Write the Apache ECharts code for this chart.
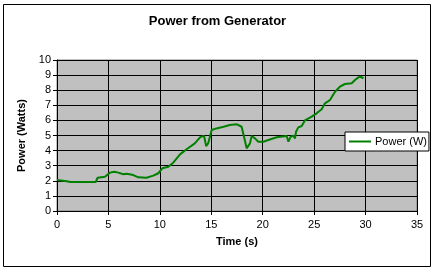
<!DOCTYPE html>
<html>
<head>
<meta charset="utf-8">
<script src="https://cdn.jsdelivr.net/npm/echarts@6/dist/echarts.min.js"></script>
<style>
html,body{margin:0;padding:0;background:#fff;}
#c{width:435px;height:271px;}
</style>
</head>
<body>
<div id="c"></div>
<script>
var titleText = 'Power from Generator';
var xName = 'Time (s)';
var yName = 'Power (Watts)';
var seriesName = 'Power (W)';
var time = [0, 0.94, 1.3, 2.5, 3.76, 3.95, 4.67, 5.15, 5.57, 5.96, 6.45, 6.77, 7.42, 7.9, 8.7, 9.36, 9.85, 10.24, 10.82, 11.3, 11.96, 12.6, 13.4, 13.97, 14.3, 14.5, 14.7, 15.04, 15.5, 16.2, 16.8, 17.5, 17.95, 18.18, 18.44, 18.6, 18.76, 18.93, 19.25, 19.57, 20.06, 20.55, 21.36, 22.33, 22.5, 22.72, 22.98, 23.14, 23.24, 23.46, 23.79, 24.1, 24.76, 25.24, 25.73, 26.05, 26.54, 27.03, 27.5, 28.0, 28.65, 28.97, 29.3, 29.5, 29.8];
var power = [2.05, 1.97, 1.92, 1.92, 1.92, 2.2, 2.27, 2.54, 2.6, 2.54, 2.43, 2.47, 2.38, 2.23, 2.2, 2.34, 2.5, 2.83, 2.93, 3.2, 3.75, 4.09, 4.48, 4.92, 4.97, 4.3, 4.48, 5.36, 5.47, 5.58, 5.7, 5.74, 5.58, 4.92, 4.15, 4.09, 4.48, 4.97, 4.81, 4.59, 4.59, 4.7, 4.88, 4.97, 4.59, 4.92, 4.99, 4.81, 5.25, 5.54, 5.63, 6.0, 6.25, 6.47, 6.74, 7.13, 7.35, 7.9, 8.23, 8.41, 8.46, 8.68, 8.85, 8.89, 8.79];

var data = time.map(function (t, i) { return [t, power[i]]; });
var font = 'Arial, "Liberation Sans", sans-serif';
var chart = echarts.init(document.getElementById('c'));
chart.setOption({
  animation: false,
  backgroundColor: '#ffffff',
  title: {
    text: titleText, left: 'center', top: 10,
    textStyle: { fontFamily: font, fontSize: 13, fontWeight: 'bold', color: '#000' }
  },
  graphic: [{
    type: 'rect', shape: { x: 3.5, y: 4.5, width: 427, height: 262 },
    style: { fill: 'none', stroke: '#000', lineWidth: 1 }, z: -1
  }],
  grid: {
    left: 57, right: 18, top: 60, bottom: 60,
    show: true, backgroundColor: '#c0c0c0', borderColor: '#808080', borderWidth: 1
  },
  legend: {
    data: [{ name: seriesName, icon: 'rect' }], left: 345, top: 132,
    backgroundColor: '#fff', borderColor: '#000', borderWidth: 1,
    padding: [4, 2, 4, 4], itemWidth: 22, itemHeight: 2, itemGap: 4,
    itemStyle: { color: '#008000', borderWidth: 0 },
    textStyle: { fontFamily: font, fontSize: 11, color: '#000', padding: [0, 0, 0, -1] }
  },
  xAxis: {
    type: 'value', min: 0, max: 35, interval: 5,
    name: xName, nameLocation: 'middle', nameGap: 25,
    nameTextStyle: { fontFamily: font, fontSize: 11, fontWeight: 'bold', color: '#000' },
    axisLine: { lineStyle: { color: '#000' } },
    axisTick: { show: true, inside: false, length: 4, lineStyle: { color: '#000' } },
    axisLabel: { fontFamily: font, fontSize: 11, color: '#000', margin: 8 },
    splitLine: { show: true, lineStyle: { color: '#000', width: 1 } }
  },
  yAxis: {
    type: 'value', min: 0, max: 10, interval: 1,
    name: yName, nameLocation: 'middle', nameGap: 27, nameRotate: 90,
    nameTextStyle: { fontFamily: font, fontSize: 11, fontWeight: 'bold', color: '#000' },
    axisLine: { show: true, lineStyle: { color: '#000' } },
    axisTick: { show: true, inside: false, length: 4, lineStyle: { color: '#000' } },
    axisLabel: { fontFamily: font, fontSize: 11, color: '#000', margin: 6 },
    splitLine: { show: true, lineStyle: { color: '#000', width: 1 } }
  },
  series: [{
    name: seriesName, type: 'line', data: data,
    symbol: 'none', showSymbol: false,
    lineStyle: { color: '#008000', width: 2 },
    itemStyle: { color: '#008000' }
  }]
});
</script>
</body>
</html>
